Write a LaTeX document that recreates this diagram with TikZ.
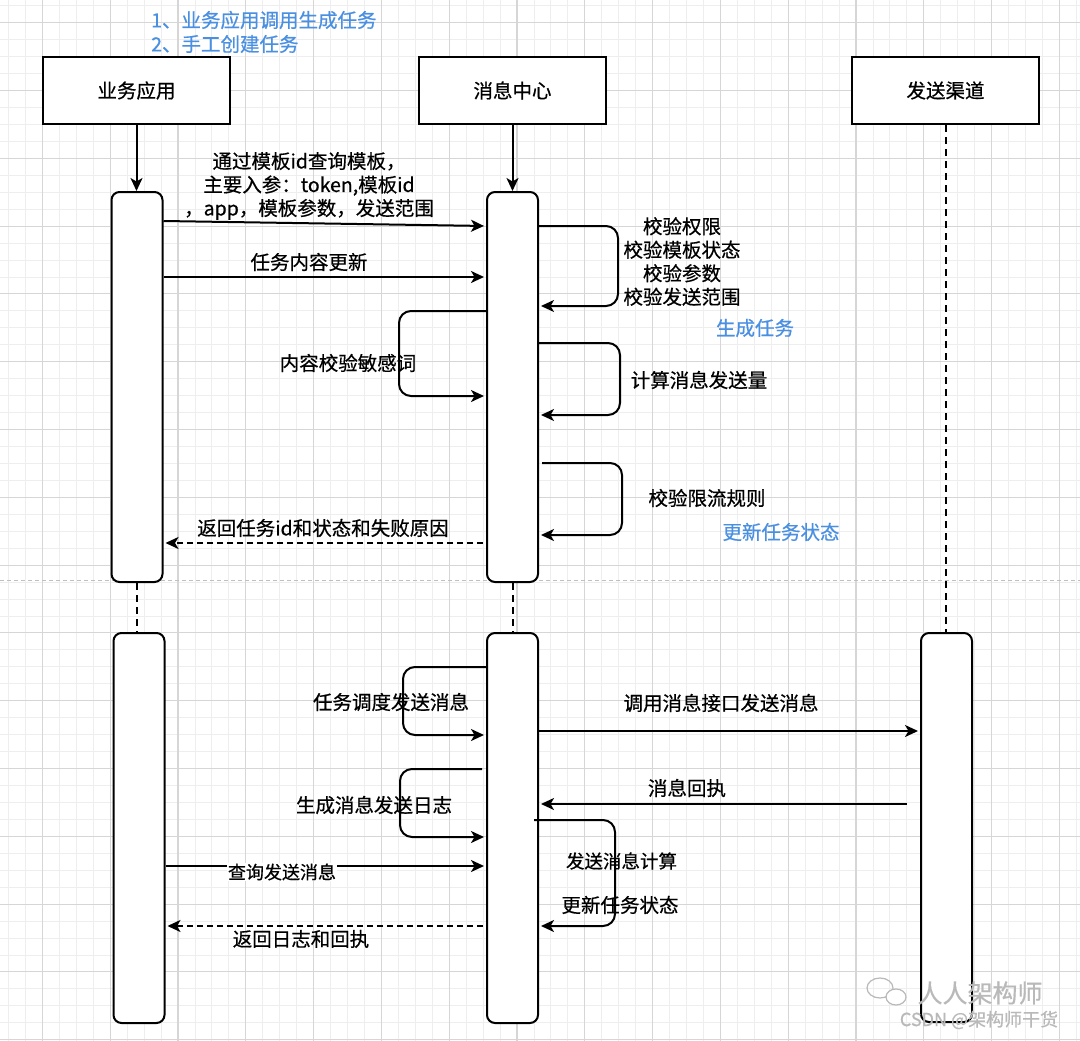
\documentclass[tikz,border=0pt]{standalone}
\usepackage{fontspec}
\setmainfont{Noto Sans CJK SC}[RawFeature={embolden=0.6}]
\usetikzlibrary{arrows.meta,calc}
\definecolor{lblue}{RGB}{74,144,226}
\definecolor{gridmin}{RGB}{238,238,238}
\definecolor{gridmaj}{RGB}{214,214,214}
\definecolor{wmark}{RGB}{185,185,185}
\begin{document}
\begin{tikzpicture}[x=1pt,y=-1pt,
  font=\fontsize{19.5}{23.5}\selectfont,
  hdr/.style={draw, line width=2.2pt, minimum width=187pt, minimum height=67pt, inner sep=0pt, fill=white},
  bar/.style={draw, line width=2pt, rounded corners=8pt, minimum width=51pt, fill=white, inner sep=0pt},
  msg/.style={line width=2pt, shorten >=2pt, -{Stealth[length=13pt,width=12pt,inset=3.5pt]}},
  ret/.style={msg, dash pattern=on 6pt off 4pt},
  lp/.style={msg, rounded corners=12pt},
  life/.style={line width=2pt, dash pattern=on 7pt off 5pt},
  lbl/.style={inner sep=0pt, align=center},
  note/.style={lbl, text=lblue}]
\useasboundingbox (0,0) rectangle (1080,1041);
\fill[white] (0,0) rectangle (1080,1041);
% grid
\foreach \i in {-2,...,61} {\draw[gridmin, line width=0.9pt] ({42.4+16.95*\i},0) -- ({42.4+16.95*\i},1041);}
\foreach \i in {-1,...,60} {\draw[gridmin, line width=0.9pt] (0,{22.7+16.95*\i}) -- (1080,{22.7+16.95*\i});}
\foreach \i in {0,...,15} {\draw[gridmaj, line width=1.1pt] ({42.4+67.8*\i},0) -- ({42.4+67.8*\i},1041);}
\foreach \i in {0,...,15} {\draw[gridmaj, line width=1.1pt] (0,{22.7+67.8*\i}) -- (1080,{22.7+67.8*\i});}

% separator
\draw[gray!50, line width=1.2pt, dash pattern=on 4pt off 3pt] (0,580.5) -- (1080,580.5);

% top notes
\node[note, anchor=west] (n1) at (151,20) {1、业务应用调用生成任务};
\node[note, anchor=west] (n2) at (151,44) {2、手工创建任务};

% headers
\node[hdr] (HA) at (136.5,90.5) {业务应用};
\node[hdr] (HB) at (512.5,90.5) {消息中心};
\node[hdr] (HC) at (945.5,90.5) {发送渠道};

% activation bars
\node[bar, minimum height=390pt] (A1) at (137,387) {};
\node[bar, minimum height=390pt] (B1) at (512.5,387) {};
\node[bar, minimum height=390pt] (A2) at (139,828) {};
\node[bar, minimum height=390pt] (B2) at (512.5,828) {};
\node[bar, minimum height=389pt] (C2) at (946.5,827.5) {};

% lifelines
\draw[msg, shorten >=0pt] (HA.south) -- (HA.south |- A1.north);
\draw[msg, shorten >=0pt] (HB.south) -- (HB.south |- B1.north);
\draw[life] (HC.south) -- (HC.south |- C2.north);
\draw[life] (A1.south) -- (A1.south |- A2.north);
\draw[life] (B1.south) -- (B2.north);

% upper section
\draw[msg] (A1.east |- 0,221) -- (B1.west |- 0,226);
\node[lbl] (m1) at (309,186) {通过模板id查询模板，\\主要入参：token,模板id\\，app，模板参数，发送范围};
\draw[msg] (A1.east |- 0,277) -- (B1.west |- 0,277);
\node[lbl] (m2) at (309,262) {任务内容更新};

\draw[lp] (B1.east |- 0,226) -- (618,226) -- (618,306) -- (B1.east |- 0,306);
\node[lbl] (m3) at (682,261.5) {校验权限\\校验模板状态\\校验参数\\校验发送范围};
\node[note] (m4) at (755,328) {生成任务};

\draw[lp] (B1.west |- 0,311) -- (399,311) -- (399,396) -- (B1.west |- 0,396);
\node[lbl] (m5) at (348,363) {内容校验敏感词};

\draw[lp] (B1.east |- 0,343) -- (620,343) -- (620,415) -- (B1.east |- 0,415);
\node[lbl] (m6) at (699,380) {计算消息发送量};

\draw[lp] ($(B1.east |- 0,463)+(3,0)$) -- (622,463) -- (622,535) -- (B1.east |- 0,535);
\node[lbl] (m7) at (707,498) {校验限流规则};
\node[note] (m8) at (781,532) {更新任务状态};

\draw[ret] ($(B1.west |- 0,543)+(-3,0)$) -- (A1.east |- 0,543);
\node[lbl] (m9) at (323,528) {返回任务id和状态和失败原因};

% lower section
\draw[lp] (B2.west |- 0,667) -- (403,667) -- (403,735) -- (B2.west |- 0,735);
\node[lbl] (k1) at (391,702) {任务调度发送消息};

\draw[msg] (B2.east |- 0,731) -- (C2.west |- 0,731);
\node[lbl] (k2) at (721,703) {调用消息接口发送消息};

\draw[lp] ($(B2.west |- 0,769)+(-4,0)$) -- (400,769) -- (400,837) -- (B2.west |- 0,837);
\node[lbl] (k3) at (374,805) {生成消息发送日志};

\draw[msg] ($(C2.west |- 0,804)+(-13,0)$) -- (B2.east |- 0,804);
\node[lbl] (k4) at (687,788) {消息回执};

\draw[lp] ($(B2.east |- 0,820)+(-5,0)$) -- (615,820) -- (615,926) -- (B2.east |- 0,926);
\node[lbl, font=\fontsize{18.5}{22}\selectfont] (k5) at (621.5,861) {发送消息计算};
\node[lbl] (k6) at (620,905) {更新任务状态};

\draw[msg] (A2.east |- 0,866) -- (B2.west |- 0,866);
\node[lbl, fill=white, inner sep=1pt, font=\fontsize{18}{22}\selectfont] (k7) at (282,872) {查询发送消息};

\draw[ret] ($(B2.west |- 0,926)+(-3,0)$) -- (A2.east |- 0,926);
\node[lbl] (k8) at (301,939) {返回日志和回执};

% watermark
\draw[wmark, line width=1.2pt] (880,988) ellipse [x radius=13, y radius=10];
\draw[wmark, line width=1.2pt, fill=white] (896,997) ellipse [x radius=10, y radius=8];
\node[lbl, text=wmark, font=\fontsize{25}{25}\selectfont] (w1) at (980,993) {人人架构师};
\node[lbl, text=wmark, font=\fontsize{18}{18}\selectfont] (w2) at (979,1020) {CSDN @架构师干货};
\end{tikzpicture}
\end{document}
